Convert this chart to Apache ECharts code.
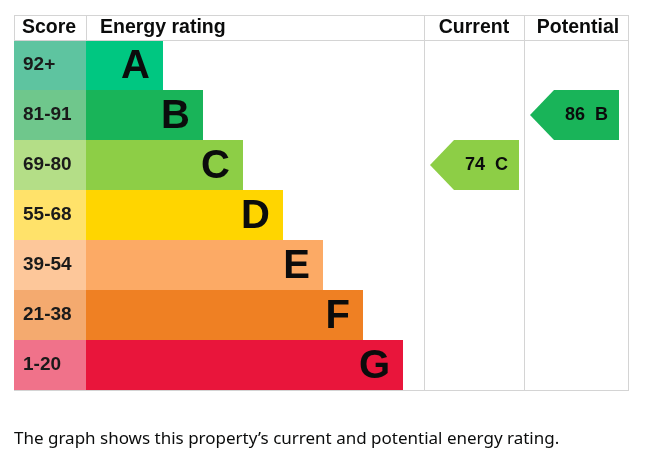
<!DOCTYPE html>
<html><head><meta charset="utf-8">
<script src="https://cdn.jsdelivr.net/npm/echarts@6/dist/echarts.min.js"></script>
<style>html,body{margin:0;padding:0;background:#fff}#c{width:647px;height:464px}</style>
</head><body><div id="c"></div>
<script>
var bands = ['A','B','C','D','E','F','G'];
var scoreRanges = ['92+','81-91','69-80','55-68','39-54','21-38','1-20'];
var scoreMins = [92,81,69,55,39,21,1];
var barColors = ['#00c781','#19b459','#8dce46','#ffd500','#fcaa65','#ef8023','#e9153b'];
var scoreColors = ['#5ec4a0','#6fc78c','#b4de87','#ffe26a','#fdc79a','#f4aa6f','#f0728a'];
var scoreCellWidth = [72,72,72,72,72,72,72];
var barLengths = [77,117,157,197,237,277,317];
var currentScore = 74;
var potentialScore = 86;
var headers = ['Score','Energy rating','Current','Potential'];
var footer = 'The graph shows this property\u2019s current and potential energy rating.';

function bandIndex(s){ for(var i=0;i<scoreMins.length;i++){ if(s>=scoreMins[i]) return i; } return scoreMins.length-1; }

var chart = echarts.init(document.getElementById('c'), null, {renderer:'canvas'});
var FONT = 'Liberation Sans';
var LC = '#d4d4d4';
var colCurR = 505, colPotR = 605;
var arrowData = [
  [colCurR, bandIndex(currentScore), currentScore, bands[bandIndex(currentScore)], barColors[bandIndex(currentScore)]],
  [colPotR, bandIndex(potentialScore), potentialScore, bands[bandIndex(potentialScore)], barColors[bandIndex(potentialScore)]]
];

function line(x1,y1,x2,y2){ return {type:'line', z:100, shape:{x1:x1,y1:y1,x2:x2,y2:y2}, style:{stroke:LC, lineWidth:1}}; }
function htext(x, t, align){ return {type:'text', x:x, y:28, style:{text:t, fontFamily:FONT, fontWeight:'bold', fontSize:19.5, fill:'#0b0c0c', align:align||'left', verticalAlign:'middle'}}; }

chart.setOption({
  animation:false,
  grid:{left:14, right:19, top:40, bottom:74},
  xAxis:{type:'value', min:0, max:614, show:false},
  yAxis:{type:'category', data:bands, inverse:true, show:false},
  series:[
    {type:'bar', stack:'s', barWidth:'100%', barCategoryGap:0,
     data: scoreCellWidth.map(function(v,i){return {value:v, itemStyle:{color:scoreColors[i]},
       label:{show:true, formatter:scoreRanges[i]}};}),
     label:{position:'insideLeft', distance:9, color:'#1a1a1a', fontFamily:FONT, fontWeight:'bold', fontSize:19}},
    {type:'bar', stack:'s', barWidth:'100%',
     data: barLengths.map(function(v,i){return {value:v, itemStyle:{color:barColors[i]},
       label:{show:true, formatter:bands[i]}};}),
     label:{position:'insideRight', distance:13, color:'#0b0c0c', fontFamily:FONT, fontWeight:'bold', fontSize:40, offset:[0,2]}},
    {type:'custom', data:arrowData, z:10,
     renderItem:function(params, api){
       var p = api.coord([api.value(0), api.value(1)]);
       var h = api.size([0,1])[1];
       var right = p[0], top = p[1]-h/2, bot = p[1]+h/2;
       var left = right - 65, tip = left - 24;
       return {type:'group', children:[
         {type:'polygon', shape:{points:[[tip,p[1]],[left,top],[right,top],[right,bot],[left,bot]]},
          style:{fill:arrowData[params.dataIndex][4]}},
         {type:'text', style:{text: api.value(2)+'  '+arrowData[params.dataIndex][3], x:(left+right)/2, y:p[1],
          align:'center', verticalAlign:'middle', fill:'#0b0c0c', fontFamily:FONT, fontWeight:'bold', fontSize:18}}
       ]};
     }}
  ],
  graphic:[
    line(14,15.5,628,15.5), line(14,40.5,628,40.5), line(14,390.5,628,390.5),
    line(14.5,15,14.5,40), line(86.5,15,86.5,40),
    line(424.5,15,424.5,390), line(524.5,15,524.5,390), line(628.5,15,628.5,391),
    htext(22, headers[0]), htext(100, headers[1]), htext(474, headers[2], 'center'), htext(578, headers[3], 'center'),
    {type:'text', x:14, y:439, style:{text:footer, fontFamily:'Noto Sans', fontSize:17, fill:'#0b0c0c', verticalAlign:'middle'}}
  ]
});
</script></body></html>
